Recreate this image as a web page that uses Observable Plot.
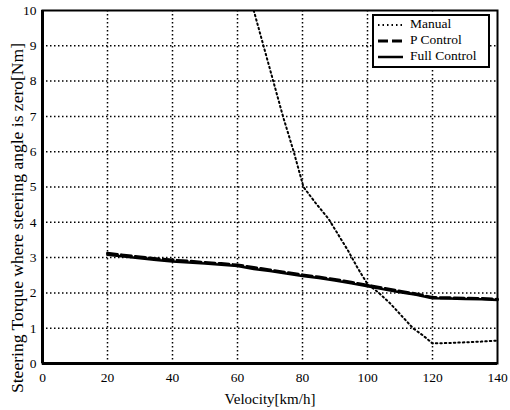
<!DOCTYPE html>
<html><head><meta charset="utf-8">
<script src="https://cdn.jsdelivr.net/npm/d3@7"></script>
<script src="https://cdn.jsdelivr.net/npm/@observablehq/plot@0.6"></script>
<style>
body{margin:0;background:#fff;}
#wrap{position:relative;width:510px;height:410px;font-family:"Liberation Serif","DejaVu Serif",serif;}
#legend{position:absolute;left:372px;top:14px;}
#wrap svg text{font-family:"Liberation Serif","DejaVu Serif",serif;}
</style>
</head><body>
<div id="wrap"></div>
<script>
const ctrlVelocity = [20,25,30,35,40,45,50,55,60,65,70,75,80,85,90,95,100,105,110,115,120,125,130,135,140];
const fullControl = [3.08,3.03,2.98,2.93,2.89,2.86,2.83,2.80,2.76,2.68,2.62,2.55,2.48,2.42,2.35,2.27,2.19,2.10,2.02,1.95,1.85,1.84,1.83,1.82,1.80];
const pControl    = [3.12,3.07,3.02,2.97,2.93,2.90,2.86,2.83,2.79,2.72,2.65,2.58,2.51,2.45,2.38,2.30,2.22,2.13,2.05,1.97,1.87,1.86,1.85,1.84,1.82];
const manualVelocity = [65,68,71,74,77.3,80.3,84,88,90,94,97,100,103.5,107,110,114,117,120,125,130,135,140];
const manualTorque   = [10,9,8,7,6,5,4.55,4.1,3.8,3.2,2.7,2.25,2,1.7,1.4,1,0.8,0.57,0.58,0.6,0.62,0.65];
const xTicks = [0,20,40,60,80,100,120,140];
const yTicks = [0,1,2,3,4,5,6,7,8,9,10];
const seriesNames = ["Manual","P Control","Full Control"];

const full = ctrlVelocity.map((v,i)=>({v, t: fullControl[i]}));
const pc = ctrlVelocity.map((v,i)=>({v, t: pControl[i]}));
const man = manualVelocity.map((v,i)=>({v, t: manualTorque[i]}));
const serif = '"Liberation Serif", serif';

const chart = Plot.plot({
  width: 510, height: 410,
  marginLeft: 42, marginRight: 13, marginTop: 10, marginBottom: 47,
  style: {fontFamily: serif, fontSize: "13px", color: "#000", background: "#fff"},
  x: {domain: [0,140], label: null},
  y: {domain: [0,10], label: null},
  marks: [
    Plot.gridX(xTicks.slice(1,-1), {stroke: "#000", strokeOpacity: 1, strokeWidth: 1.5, strokeDasharray: "1.5,2.5"}),
    Plot.gridY(yTicks.slice(1,-1), {stroke: "#000", strokeOpacity: 1, strokeWidth: 1.5, strokeDasharray: "1.5,2.5"}),
    Plot.lineY(man, {x: "v", y: "t", stroke: "#000", strokeWidth: 2, strokeDasharray: "1.5,3", clip: true}),
    Plot.lineY(pc, {x: "v", y: "t", stroke: "#000", strokeWidth: 3, strokeDasharray: "10,4"}),
    Plot.lineY(full, {x: "v", y: "t", stroke: "#000", strokeWidth: 2.5}),
    Plot.frame({stroke: "#000", strokeWidth: 2}),
    Plot.ruleX([0], {stroke: "#000", strokeWidth: 3}),
    Plot.ruleY([0], {stroke: "#000", strokeWidth: 3}),
    Plot.axisX({ticks: xTicks, tickSize: 0, tickPadding: 9, label: null, fontSize: 13.5, fontFamily: serif}),
    Plot.axisY({ticks: yTicks, tickSize: 0, tickPadding: 6, label: null, fontSize: 13.5, fontFamily: serif}),
    Plot.text(["Velocity[km/h]"], {frameAnchor: "bottom", dy: 36, fontSize: 15, lineAnchor: "middle", fontFamily: serif}),
  ]
});
const wrap = document.getElementById("wrap");
wrap.appendChild(chart);

// y axis label
const svg = d3.select(chart);
svg.append("text")
  .attr("transform", "translate(19,218) rotate(-90)")
  .attr("text-anchor", "middle")
  .attr("dominant-baseline", "middle")
  .attr("font-size", 16)
  .attr("textLength", 350)
  .attr("lengthAdjust", "spacingAndGlyphs")
  .attr("font-family", serif)
  .text("Steering Torque where steering angle is zero[Nm]");

// legend
const dashes = ["1.5,3", "10,4", null];
const widths = [2, 3, 2.5];
const lg = d3.select(wrap).append("svg").attr("id","legend").attr("width",118).attr("height",54);
lg.append("rect").attr("x",1).attr("y",1).attr("width",116).attr("height",52).attr("fill","#fff").attr("stroke","#000").attr("stroke-width",2);
seriesNames.forEach((n,i)=>{
  const y = 11 + i*16;
  lg.append("line").attr("x1",6).attr("x2",31).attr("y1",y).attr("y2",y)
    .attr("stroke","#000").attr("stroke-width",widths[i]).attr("stroke-dasharray",dashes[i]);
  lg.append("text").attr("x",38).attr("y",y).attr("dominant-baseline","middle")
    .attr("font-size",13.5).attr("font-family",serif).text(n);
});
</script>
</body></html>
